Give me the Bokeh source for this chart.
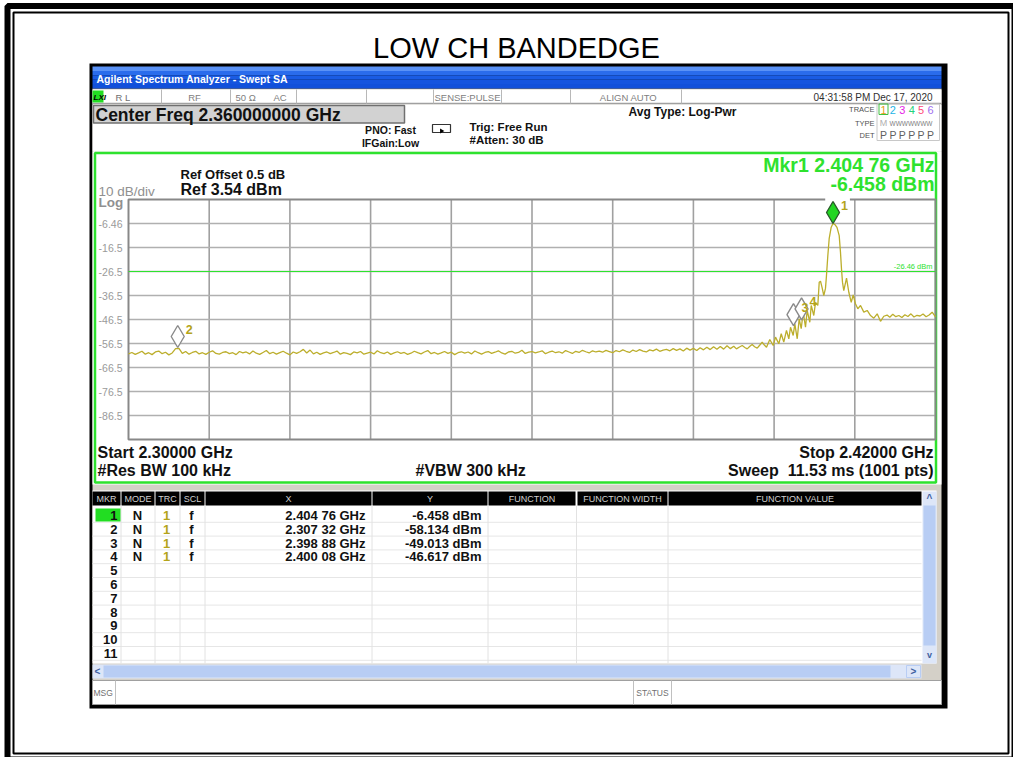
import numpy as np
from bokeh.plotting import figure
from bokeh.models import Range1d
from bokeh.core.properties import value
from bokeh.embed import file_html
from bokeh.resources import INLINE

# ---------------- data ----------------
CHART_TITLE = "LOW CH BANDEDGE"
START_GHZ = 2.30
STOP_GHZ = 2.42
CENTER_GHZ = 2.36
REF_DBM = 3.54
DB_PER_DIV = 10.0
N_DIV = 10
DISPLAY_LINE_DBM = -26.46

# noise floor, 2.3000 .. 2.3895 GHz every 0.5 MHz
floor_start_ghz = 2.300
floor_step_ghz = 0.0005
floor_dbm = [
    -60.8, -60.2, -61.0, -60.4, -59.7, -60.9, -60.3, -61.1, -60.0, -59.6, -60.7, -60.1, -61.2, -60.4, -58.6, -58.5, -60.6, -59.8, -60.9, -60.2,
    -59.7, -60.8, -60.3, -61.0, -60.1, -59.5, -60.6, -60.9, -60.2, -59.9, -60.7, -60.3, -61.1, -59.8, -60.4, -60.0, -60.8, -59.6, -60.5, -61.0,
    -60.2, -59.4, -60.7, -60.1, -60.9, -60.3, -59.7, -60.5, -61.2, -60.0, -60.6, -59.9, -58.9, -60.4, -59.2, -60.8, -60.1, -61.0, -60.4, -60.0,
    -60.7, -60.2, -59.6, -60.9, -60.3, -60.6, -61.1, -60.0, -60.4, -59.8, -60.9, -60.5, -60.1, -60.8, -59.5, -60.3, -60.7, -60.0, -61.0, -60.4,
    -59.9, -60.6, -60.2, -61.0, -60.5, -59.7, -60.3, -60.8, -60.0, -59.4, -60.7, -60.2, -60.9, -60.4, -59.8, -60.6, -60.1, -61.1, -60.3, -59.9,
    -60.5, -60.0, -60.8, -59.6, -60.3, -60.9, -60.2, -59.8, -60.6, -60.1, -59.5, -60.4, -60.9, -60.0, -59.7, -60.5, -60.2, -59.3, -60.6, -60.1,
    -59.8, -60.4, -60.0, -59.5, -60.7, -60.1, -59.6, -60.3, -59.9, -60.5, -59.4, -60.0, -60.6, -59.7, -60.2, -59.3, -59.9, -60.4, -59.5, -60.0,
    -59.6, -60.1, -59.3, -59.8, -60.3, -59.4, -59.9, -59.1, -59.7, -60.2, -59.2, -59.8, -59.0, -59.6, -60.0, -59.1, -59.5, -58.8, -59.7, -59.2,
    -58.9, -59.5, -58.6, -59.3, -58.7, -59.6, -58.4, -59.2, -58.5, -59.4, -58.2, -59.1, -58.0, -59.0, -57.8, -58.9, -57.7, -58.8, -57.4, -58.6,
]

# band edge + carrier, 2.390 .. 2.420 GHz
edge_ghz = [
    2.39000, 2.39040, 2.39085, 2.39126, 2.39165, 2.39200, 2.39240, 2.39274, 2.39310, 2.39349,
    2.39385, 2.39423, 2.39455, 2.39487, 2.39536, 2.39587, 2.39621, 2.39670, 2.39706, 2.39744,
    2.39784, 2.39819, 2.39844, 2.39884, 2.39908, 2.39944, 2.39973, 2.40003, 2.40033, 2.40067,
    2.40092, 2.40131, 2.40152, 2.40190, 2.40216, 2.40250, 2.40271, 2.40290, 2.40312, 2.40339,
    2.40364, 2.40379, 2.40399, 2.40419, 2.40449, 2.40476, 2.40505, 2.40535, 2.40568, 2.40587,
    2.40602, 2.40617, 2.40636, 2.40677, 2.40711, 2.40747, 2.40776, 2.40810, 2.40845, 2.40885,
    2.40934, 2.40984, 2.41034, 2.41083, 2.41133, 2.41182, 2.41231, 2.41280, 2.41320, 2.41365,
    2.41410, 2.41455, 2.41500, 2.41545, 2.41590, 2.41635, 2.41680, 2.41725, 2.41770, 2.41815,
    2.41860, 2.41905, 2.41950, 2.42000,
]
edge_dbm = [
    -57.6, -58.7, -57.9, -57.3, -58.1, -58.7, -57.6, -56.9, -57.8, -58.4,
    -57.2, -55.9, -57.1, -58.0, -54.8, -57.3, -53.8, -56.6, -52.4, -55.9,
    -51.0, -54.5, -49.7, -53.1, -48.3, -54.5, -46.2, -50.3, -43.4, -49.7,
    -42.7, -47.6, -40.6, -44.8, -39.3, -40.6, -30.9, -30.5, -33.0, -36.5,
    -33.5, -28.1, -19.8, -12.8, -8.0, -6.46, -6.9, -8.1, -11.5, -18.4,
    -25.3, -30.9, -34.4, -29.2, -35.1, -39.3, -36.2, -39.9, -42.0, -40.6,
    -43.4, -42.7, -44.8, -45.9, -44.1, -47.2, -45.1, -44.6, -45.5, -44.3,
    -45.3, -44.8, -45.6, -44.5, -45.2, -44.1, -45.4, -44.7, -45.0, -44.2,
    -45.3, -44.6, -43.4, -45.4,
]

marker_id = [1, 2, 3, 4]
marker_ghz = [2.40476, 2.30732, 2.39888, 2.40008]
marker_dbm = [-6.458, -58.134, -49.013, -46.617]
marker_mode = ["N", "N", "N", "N"]
marker_trc = ["1", "1", "1", "1"]
marker_scl = ["f", "f", "f", "f"]

ytick_labels = ["-6.46", "-16.5", "-26.5", "-36.5", "-46.5", "-56.5", "-66.5", "-76.5", "-86.5"]
table_headers = ["MKR", "MODE", "TRC", "SCL", "X", "Y", "FUNCTION", "FUNCTION WIDTH", "FUNCTION VALUE"]
table_rows = 11

# ---------------- layout (screen pixels) ----------------
W, H = 1013, 757
OX, OY = 0, 0
GL, GR, GT, GB = 128, 935, 199, 439
FONT = "Liberation Sans"
GREEN = "#2ee22e"
TRACE = "#bcae2c"
OLIVE = "#b4a41a"
NBSP = "\u00a0"

p = figure(width=W, height=H, x_range=Range1d(OX, OX + W), y_range=Range1d(OY + H, OY),
           output_backend="svg", toolbar_location=None, min_border=0, title=None,
           x_axis_location=None, y_axis_location=None)
p.grid.visible = False
p.outline_line_color = None
p.background_fill_color = "white"
p.border_fill_color = "white"

kx = (STOP_GHZ - START_GHZ) / (GR - GL)
ky = DB_PER_DIV * N_DIV / (GB - GT)
p.extra_x_ranges = {"freq": Range1d(START_GHZ - (GL - OX) * kx, STOP_GHZ + (OX + W - GR) * kx)}
p.extra_y_ranges = {"dbm": Range1d(REF_DBM - (OY + H - GT) * ky, REF_DBM + (GT - OY) * ky)}


def box(l, t, r, b, fill=None, line=None, lw=1.0):
    p.quad(left=[l], right=[r], top=[t], bottom=[b], fill_color=fill,
           line_color=line, line_width=lw)


def hline(x0, x1, y, color, lw=1.0):
    p.segment(x0=[x0], y0=[y], x1=[x1], y1=[y], line_color=color, line_width=lw)


def vline(x, y0, y1, color, lw=1.0):
    p.segment(x0=[x], y0=[y0], x1=[x], y1=[y1], line_color=color, line_width=lw)


def txt(x, y, s, size, color="black", bold=False, align="left", font=FONT, italic=False):
    style = "bold" if bold else "normal"
    if italic:
        style = "bold italic" if bold else "italic"
    p.text(x=[x], y=[y], text=[s], text_font=value(font), text_font_size=f"{size}px",
           text_font_style=style, text_color=color, text_align=align, text_baseline="middle")


# outer double frame
box(7, 5.5, 1014, 759, fill=None, line="black", lw=6)
box(13, 12, 1008, 753, fill=None, line="black", lw=2)

# page title
txt(516, 47, CHART_TITLE, 29, "black", False, "center")

# instrument window
box(89, 63, 947, 708, fill="black", line=None)
box(92, 88, 941, 704, fill="#d4d0c8", line=None)
# title bar
blues = ["#5a92f6", "#2a6cec", "#1a5ce4", "#1554df", "#1250da"]
for i, c in enumerate(blues):
    box(92, 66 + i * 4.4, 941, 66 + (i + 1) * 4.4, fill=c, line=None)
txt(96, 78, "Agilent Spectrum Analyzer - Swept SA", 10.5, "white", True, "left")

# status row
box(92, 89, 941, 103, fill="white", line=None)
hline(92, 941, 103, "#a0a0a0", 1.5)
for xd in [161, 230, 296, 366, 433, 501, 570, 681]:
    vline(xd, 89, 103, "#b8b8b8", 1)
box(92, 90, 103, 102, fill="#22dd22", line=None)
txt(93, 96.5, "LXI", 8, "black", True, "left", FONT, True)
txt(115, 96.5, "R L", 9.5, "#707070")
txt(194, 96.5, "RF", 9.5, "#808080", False, "center")
txt(235, 96.5, "50 \u03a9", 9.5, "#808080")
txt(273, 96.5, "AC", 9.5, "#808080")
txt(467, 96.5, "SENSE:PULSE", 9.5, "#808080", False, "center")
txt(628, 96.5, "ALIGN AUTO", 9.5, "#808080", False, "center")
txt(932, 96.5, "04:31:58 PM Dec 17, 2020", 10, "#303030", False, "right")

# header area
box(92, 104, 941, 151, fill="white", line=None)
box(93, 105, 404, 122.5, fill="#d2d2d2", line="#707070", lw=1.5)
txt(95, 114, f"Center Freq {CENTER_GHZ:.9f} GHz", 17.5, "#111111", True)
txt(390, 129, "PNO: Fast", 10.5, "#111111", True, "center")
txt(390, 142, "IFGain:Low", 10.5, "#111111", True, "center")
box(432, 124, 450, 132, fill=None, line="#333333", lw=1.2)
p.scatter(x=[441], y=[130.5], marker="triangle", size=5, angle=-1.5708, fill_color="black", line_color=None)
txt(469, 126, "Trig: Free Run", 11.5, "#111111", True)
txt(469, 139, "#Atten: 30 dB", 11.5, "#111111", True)
txt(628, 111.5, "Avg Type: Log-Pwr", 12, "#111111", True)
txt(874, 108.5, "TRACE", 7.5, "#505050", False, "right")
txt(874, 122.5, "TYPE", 7.5, "#505050", False, "right")
txt(874, 134.5, "DET", 7.5, "#505050", False, "right")
box(876.5, 103.5, 939, 140, fill=None, line="#c8c8c8", lw=1)
trace_num_colors = ["#e6a020", "#1eb4e6", "#e61ee6", "#22d27a", "#ff4a7a", "#a070f0"]
for i, c in enumerate(trace_num_colors):
    xc = 883 + 9.4 * i
    if i == 0:
        box(878.5, 103.5, 887.5, 114, fill=None, line="#40c040", lw=1)
    txt(xc, 109, str(i + 1), 11, c, False, "center")
    txt(xc, 134.5, "P", 10.5, "#606060", False, "center")
txt(883, 122.5, "M", 9, "#b0b0b0", False, "center")
txt(889, 122.5, "WWWWWWW", 6.5, "#808080", False, "left")

# green trace panel
box(92, 151, 941, 484, fill="white", line=None)
box(94.5, 152.5, 935.5, 482, fill=None, line=GREEN, lw=2.5)
txt(180, 174, "Ref Offset 0.5 dB", 13, "#111111", True)
txt(180, 189, f"Ref {REF_DBM:.2f} dBm", 16, "#111111", True)
txt(98, 190.5, f"{DB_PER_DIV:.0f} dB/div", 13.5, "#909090")
txt(98, 201.5, "Log", 13.5, "#909090", True)
m1f = f"{marker_ghz[0]:.5f}"
txt(934, 164, f"Mkr{marker_id[0]} {m1f[:5]} {m1f[5:]} GHz", 19.5, GREEN, True, "right")
txt(934, 183, f"{marker_dbm[0]:.3f} dBm", 19.5, GREEN, True, "right")
txt(97, 452, f"Start {START_GHZ:.5f} GHz", 16, "#111111", True)
txt(97, 470, "#Res BW 100 kHz", 16, "#111111", True)
txt(415, 470, "#VBW 300 kHz", 16, "#111111", True)
txt(933, 452, f"Stop {STOP_GHZ:.5f} GHz", 16, "#111111", True, "right")
txt(933, 470, f"Sweep {NBSP}11.53 ms (1001 pts)", 16, "#111111", True, "right")

# graticule (data space)
grid_f = [START_GHZ + i * (STOP_GHZ - START_GHZ) / N_DIV for i in range(N_DIV + 1)]
grid_db = [REF_DBM - i * DB_PER_DIV for i in range(N_DIV + 1)]
p.segment(x0=grid_f[1:-1], y0=[grid_db[-1]] * (N_DIV - 1), x1=grid_f[1:-1], y1=[grid_db[0]] * (N_DIV - 1),
          x_range_name="freq", y_range_name="dbm", line_color="#a0a0a0", line_width=1.6)
p.segment(x0=[grid_f[0]] * (N_DIV - 1), y0=grid_db[1:-1], x1=[grid_f[-1]] * (N_DIV - 1), y1=grid_db[1:-1],
          x_range_name="freq", y_range_name="dbm", line_color="#b0b0b0", line_width=1.6)
p.quad(left=[grid_f[0]], right=[grid_f[-1]], top=[grid_db[0]], bottom=[grid_db[-1]],
       x_range_name="freq", y_range_name="dbm", fill_color=None, line_color="#888888", line_width=2)
p.text(x=[122] * len(ytick_labels), y=grid_db[1:1 + len(ytick_labels)], text=ytick_labels,
       y_range_name="dbm", text_font=value(FONT), text_font_size="10.5px", text_color="#9a9a9a",
       text_align="right", text_baseline="middle")

# display line
p.segment(x0=[START_GHZ], y0=[DISPLAY_LINE_DBM], x1=[STOP_GHZ], y1=[DISPLAY_LINE_DBM],
          x_range_name="freq", y_range_name="dbm", line_color=GREEN, line_width=1.2)
p.text(x=[932], y=[DISPLAY_LINE_DBM], text=[f"{DISPLAY_LINE_DBM:.2f} dBm"], y_range_name="dbm",
       text_font=value(FONT), text_font_size="7.5px", text_color=GREEN, text_align="right",
       text_baseline="middle", y_offset=-5)

# trace
floor_ghz = [floor_start_ghz + i * floor_step_ghz for i in range(len(floor_dbm))]
trace_ghz = floor_ghz + edge_ghz
trace_dbm = floor_dbm + edge_dbm
p.line(x=trace_ghz, y=trace_dbm, x_range_name="freq", y_range_name="dbm",
       line_color=TRACE, line_width=1.3)

# markers (diamond sits on top of the marker point)
hw = 6.5 * kx
hh = 11.0 * ky
p.quad(left=[marker_ghz[0] - 1.2 * hw], right=[marker_ghz[0] + 2.6 * hw],
       top=[grid_db[0] + 0.25 * hh], bottom=[grid_db[0] - 0.25 * hh],
       x_range_name="freq", y_range_name="dbm", fill_color="white", line_color=None)
xs = [[f, f + hw, f, f - hw] for f in marker_ghz]
ys = [[d, d + hh, d + 2 * hh, d + hh] for d in marker_dbm]
fills = ["#22d622" if m == 1 else "white" for m in marker_id]
lines = ["#2a5a2a" if m == 1 else "#8a8a8a" for m in marker_id]
p.patches(xs=xs, ys=ys, x_range_name="freq", y_range_name="dbm", fill_color=fills,
          line_color=lines, line_width=1.4)
p.text(x=marker_ghz, y=[d + 2 * hh for d in marker_dbm], text=[str(m) for m in marker_id],
       x_range_name="freq", y_range_name="dbm", text_font=value(FONT), text_font_size="12.5px",
       text_font_style="bold", text_color=OLIVE, text_align="left", text_baseline="middle",
       x_offset=8, y_offset=4)

# marker table
box(92, 490, 936, 663, fill="white", line=None)
cols = [(92, 120), (121, 154), (155, 179), (180, 204), (205, 371), (372, 487), (488, 575), (577, 667), (668, 921)]
for (l, r), h in zip(cols, table_headers):
    box(l, 491, r, 505, fill="black", line=None)
    txt((l + r) / 2, 498, h, 9, "#d0d0d0", False, "center")
for i in range(1, table_rows + 1):
    hline(92, 921, 508 + 13.8 * i, "#e6e6e6", 1)
for xd in [120.5, 154.5, 179.5, 204.5, 371.5, 487.5, 576, 667.5]:
    vline(xd, 505, 663, "#e2e2e2", 1)
box(95, 508, 120, 521, fill="#22dd22", line=None)
for i in range(table_rows):
    txt(117, 515 + 13.8 * i, str(i + 1), 13, "#111111", True, "right")
for i in range(len(marker_id)):
    yc = 515 + 13.8 * i
    fx = f"{marker_ghz[i]:.5f}"
    txt(137, yc, marker_mode[i], 13, "#111111", True, "center")
    txt(166, yc, marker_trc[i], 13, OLIVE, True, "center")
    txt(191, yc, marker_scl[i], 13, "#111111", True, "center")
    txt(365, yc, f"{fx[:5]} {fx[5:]} GHz", 13, "#111111", True, "right")
    txt(481, yc, f"{marker_dbm[i]:.3f} dBm", 13, "#111111", True, "right")

# scrollbars
box(922, 491, 936, 663, fill="#dde6f8", line=None)
box(923, 505, 935, 645, fill="#b8cdf4", line=None)
txt(929, 498, "^", 10, "#4060a0", True, "center")
txt(929, 654, "v", 9, "#4060a0", True, "center")
box(92, 664, 921, 678, fill="#dde6f8", line=None)
box(103, 665, 890, 677, fill="#b8cdf4", line=None)
txt(97, 671, "<", 10, "#4060a0", True, "center")
box(906, 665, 920, 677, fill="#dde6f8", line="#b8cdf4", lw=1)
txt(913, 671, ">", 10, "#4060a0", True, "center")

# message bar
box(92, 680, 941, 704, fill="white", line="#a0a0a0", lw=1)
vline(115, 680, 704, "#c0c0c0", 1)
vline(633, 680, 704, "#c0c0c0", 1)
vline(671, 680, 704, "#c0c0c0", 1)
txt(93, 692, "MSG", 8.5, "#707070")
txt(652, 692, "STATUS", 8.5, "#707070", False, "center")

open("out.html", "w").write(file_html(p, INLINE))
